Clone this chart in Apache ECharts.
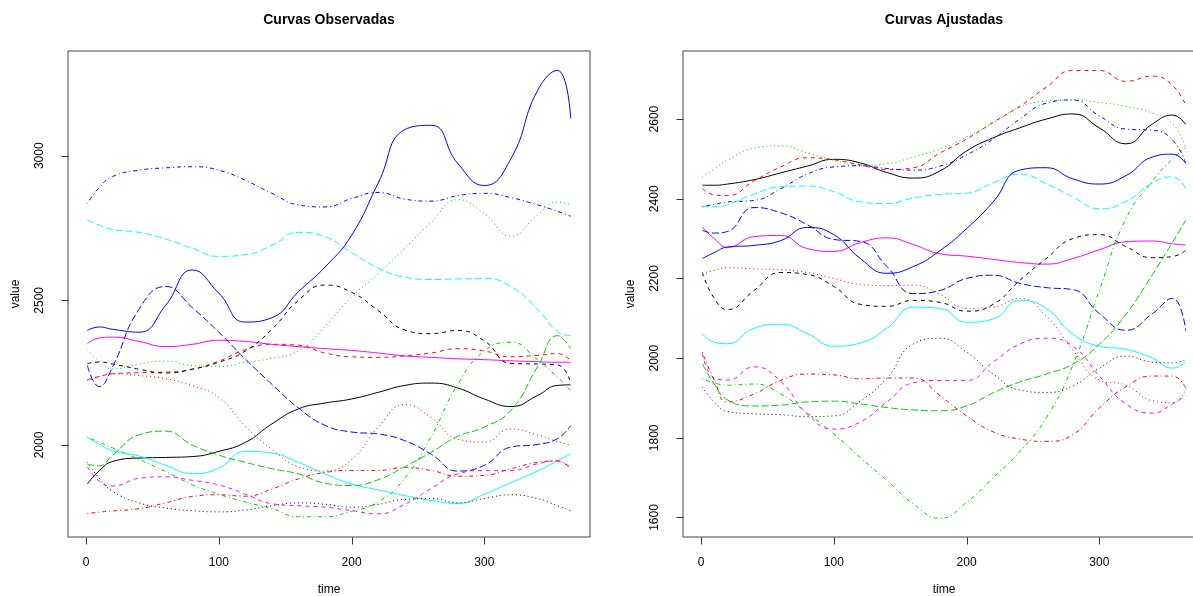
<!DOCTYPE html>
<html><head><meta charset="utf-8">
<script src="https://cdn.jsdelivr.net/npm/echarts@6/dist/echarts.min.js"></script>
<style>html,body{margin:0;padding:0;background:#fff}#c{width:1193px;height:596px}</style>
</head><body><div id="c"></div>
<script>
// time grid (days)
const days = [1,10,20,40,60,80,100,120,140,160,180,200,220,240,260,280,300,320,340,355,365];

// Observed curves (left panel)
const obs01 = [1865,1911,1943,1955,1957,1960,1978,2009,2073,2125,2145,2159,2182,2206,2214,2197,2159,2133,2171,2206,2208];
const obs02 = [2225,2237,2246,2250,2252,2262,2290,2330,2348,2345,2318,2305,2303,2308,2318,2333,2325,2305,2310,2316,2292];
const obs03 = [2329,2290,2263,2280,2290,2275,2272,2285,2300,2325,2410,2512,2592,2680,2770,2848,2800,2722,2795,2840,2830];
const obs04 = [2835,2890,2928,2950,2958,2962,2950,2915,2870,2830,2823,2852,2873,2850,2843,2862,2870,2855,2830,2808,2791];
const obs05 = [2777,2760,2745,2735,2712,2680,2652,2658,2690,2735,2720,2665,2612,2580,2572,2574,2575,2548,2470,2392,2378];
const obs06 = [2350,2370,2373,2358,2340,2348,2362,2358,2348,2340,2333,2327,2318,2308,2303,2298,2295,2291,2288,2286,2286];
const obs07 = [2281,2287,2280,2262,2249,2262,2286,2325,2400,2500,2553,2528,2465,2398,2385,2396,2360,2282,2280,2277,2215];
const obs08 = [2222,2236,2246,2240,2229,2205,2165,2065,1985,1925,1910,1950,2061,2140,2095,2020,2010,2055,2035,2012,2000];
const obs09 = [2027,2010,1990,1950,1908,1863,1830,1803,1780,1752,1752,1771,1803,1885,2030,2210,2325,2355,2295,2235,2188];
const obs10 = [2275,2202,2270,2470,2548,2475,2390,2297,2210,2128,2068,2045,2038,2015,1968,1910,1930,1993,2002,2022,2067];
const obs11 = [2026,2003,1980,1962,1930,1901,1920,1978,1972,1940,1900,1865,1845,1825,1808,1798,1830,1870,1910,1945,1969];
const obs12 = [1925,1875,1858,1885,1890,1878,1862,1830,1797,1790,1785,1773,1762,1795,1850,1900,1912,1912,1935,1945,1915];
const obs13 = [1940,1885,1840,1800,1782,1773,1769,1775,1790,1800,1795,1785,1795,1812,1815,1800,1815,1828,1815,1790,1773];
const obs14 = [1763,1768,1772,1780,1800,1822,1828,1823,1848,1883,1905,1912,1912,1922,1912,1892,1895,1918,1940,1945,1920];
const obs15 = [1934,1928,1965,2035,2048,2000,1965,1940,1918,1900,1868,1860,1880,1925,1975,2030,2062,2120,2270,2378,2334];
const obs16 = [2396,2408,2400,2390,2483,2605,2525,2425,2440,2530,2615,2725,2905,3090,3105,2973,2897,2990,3225,3295,3129];

// Fitted curves (right panel)
const fit01 = [2434,2434,2437,2448,2465,2482,2499,2490,2466,2452,2470,2520,2553,2578,2600,2613,2578,2538,2588,2610,2587];
const fit02 = [2425,2410,2408,2445,2480,2503,2498,2485,2473,2478,2515,2550,2592,2632,2680,2722,2722,2695,2708,2685,2635];
const fit03 = [2455,2475,2497,2527,2533,2515,2497,2484,2488,2505,2525,2555,2590,2630,2645,2648,2642,2632,2615,2590,2526];
const fit04 = [2380,2386,2392,2396,2425,2462,2480,2483,2476,2472,2482,2510,2550,2600,2640,2648,2608,2575,2572,2548,2489];
const fit05 = [2380,2380,2385,2412,2430,2432,2418,2392,2388,2402,2411,2414,2440,2462,2438,2405,2375,2393,2440,2455,2426];
const fit06 = [2329,2300,2278,2305,2308,2275,2268,2290,2302,2285,2262,2256,2248,2240,2236,2250,2272,2292,2294,2287,2284];
const fit07 = [2215,2150,2122,2170,2215,2210,2180,2135,2130,2145,2140,2118,2135,2195,2250,2300,2310,2280,2252,2255,2270];
const fit08 = [2210,2220,2227,2224,2222,2215,2200,2185,2182,2183,2160,2125,2128,2150,2105,2020,1945,1932,1893,1888,1920];
const fit09 = [1948,1938,1932,1935,1910,1862,1810,1750,1693,1634,1598,1638,1700,1765,1850,1982,2170,2350,2445,2500,2529];
const fit10 = [2321,2314,2318,2378,2365,2335,2298,2293,2230,2162,2170,2200,2208,2188,2177,2172,2112,2070,2112,2150,2069];
const fit11 = [2061,2040,2036,2075,2085,2062,2030,2038,2075,2128,2125,2090,2098,2145,2125,2060,2030,2022,2000,1975,1990];
const fit12 = [2012,1950,1945,1978,1942,1860,1822,1840,1890,1938,1944,1944,1990,2035,2050,2030,1955,1885,1862,1885,1906];
const fit13 = [1927,1890,1866,1860,1858,1853,1855,1892,1950,2036,2050,2015,1960,1920,1914,1930,1975,2005,1990,1988,1996];
const fit14 = [2015,1945,1890,1910,1944,1960,1958,1948,1950,1950,1906,1855,1815,1797,1791,1808,1875,1928,1955,1955,1925];
const fit15 = [1986,1935,1895,1880,1882,1890,1892,1885,1876,1870,1868,1880,1913,1940,1960,1985,2035,2110,2210,2290,2346];
const fit16 = [2250,2265,2279,2283,2295,2328,2310,2250,2213,2230,2270,2325,2392,2472,2478,2450,2437,2458,2505,2512,2489];

// Tick labels
const xTicks = [0,100,200,300];
const yTicksObs = [2000,2500,3000];
const yTicksFit = [1600,1800,2000,2200,2400,2600];

const obsCurves = [obs01,obs02,obs03,obs04,obs05,obs06,obs07,obs08,obs09,obs10,obs11,obs12,obs13,obs14,obs15,obs16];
const fitCurves = [fit01,fit02,fit03,fit04,fit05,fit06,fit07,fit08,fit09,fit10,fit11,fit12,fit13,fit14,fit15,fit16];

const palette = ['#000000','#FF0000','#00CD00','#0000FF','#00FFFF','#FF00FF'];
const ltys = ['solid',[4,4],[1,3],[1,3,4,3],[7,3]];
const FONT = 'Liberation Sans, Arial, Helvetica, sans-serif';

function makeSeries(curves, idx) {
  return curves.map((arr, i) => ({
    type: 'line',
    xAxisIndex: idx, yAxisIndex: idx,
    data: days.map((d, k) => [d, arr[k]]),
    smooth: true,
    showSymbol: false, symbol: 'none',
    silent: true,
    lineStyle: { color: palette[i % 6], width: 1, type: ltys[i % 5] },
    z: 2
  }));
}

// Tick marks placed through the axis scales (custom series, outside the plot box)
function tickSeries(idx, axisDim, ticks, otherMin) {
  return {
    type: 'custom', xAxisIndex: idx, yAxisIndex: idx, silent: true, clip: false, z: 10,
    encode: { x: 0, y: 1 },
    data: ticks.map(v => axisDim === 'x' ? [v, otherMin] : [otherMin, v]),
    renderItem: function (params, api) {
      const p = api.coord([api.value(0), api.value(1)]);
      const x1 = Math.round(p[0]) + 0.5, y1 = Math.round(p[1]) + 0.5;
      if (axisDim === 'x') {
        return { type: 'line', shape: { x1: x1, y1: y1, x2: x1, y2: y1 + 7 }, style: { stroke: '#333', lineWidth: 1 } };
      }
      return { type: 'line', shape: { x1: x1, y1: y1, x2: x1 - 7, y2: y1 }, style: { stroke: '#333', lineWidth: 1 } };
    }
  };
}

function xAx(idx) {
  return {
    type: 'value', gridIndex: idx, min: -13.56, max: 379.56,
    splitLine: { show: false },
    axisLine: { show: false, onZero: false },
    axisTick: { show: false },
    axisLabel: { show: true, customValues: xTicks, margin: 20, fontSize: 12, color: '#000', fontFamily: FONT, formatter: v => String(v) },
    name: 'time', nameLocation: 'middle', nameGap: 47,
    nameTextStyle: { fontSize: 12, color: '#000', fontFamily: FONT }
  };
}
function yAx(idx, min, max, ticks) {
  return {
    type: 'value', gridIndex: idx, min: min, max: max,
    splitLine: { show: false },
    axisLine: { show: false, onZero: false },
    axisTick: { show: false },
    axisLabel: { show: true, customValues: ticks, rotate: 90, margin: 22, fontSize: 12, color: '#000', fontFamily: FONT, formatter: v => String(v) },
    name: 'value', nameLocation: 'middle', nameGap: 46,
    nameTextStyle: { fontSize: 12, color: '#000', fontFamily: FONT }
  };
}

const obsYMin = 1682, obsYMax = 3362, fitYMin = 1551, fitYMax = 2771, xMin = -13.56;

const chart = echarts.init(document.getElementById('c'), null, { renderer: 'canvas' });
chart.setOption({
  animation: false,
  backgroundColor: '#ffffff',
  grid: [
    { left: 68, top: 51, width: 522, height: 486, show: true, borderColor: '#444', borderWidth: 1, backgroundColor: 'transparent', containLabel: false, outerBoundsMode: 'none' },
    { left: 683, top: 51, width: 522, height: 486, show: true, borderColor: '#444', borderWidth: 1, backgroundColor: 'transparent', containLabel: false, outerBoundsMode: 'none' }
  ],
  xAxis: [xAx(0), xAx(1)],
  yAxis: [yAx(0, obsYMin, obsYMax, yTicksObs), yAx(1, fitYMin, fitYMax, yTicksFit)],
  graphic: [
    { type: 'text', x: 329, y: 20, style: { text: 'Curvas Observadas', font: 'bold 14px ' + FONT, fill: '#000', textAlign: 'center', textVerticalAlign: 'middle' } },
    { type: 'text', x: 944, y: 20, style: { text: 'Curvas Ajustadas', font: 'bold 14px ' + FONT, fill: '#000', textAlign: 'center', textVerticalAlign: 'middle' } }
  ],
  series: makeSeries(obsCurves, 0).concat(makeSeries(fitCurves, 1)).concat([
    tickSeries(0, 'x', xTicks, obsYMin), tickSeries(0, 'y', yTicksObs, xMin),
    tickSeries(1, 'x', xTicks, fitYMin), tickSeries(1, 'y', yTicksFit, xMin)
  ])
});
</script>
</body></html>
